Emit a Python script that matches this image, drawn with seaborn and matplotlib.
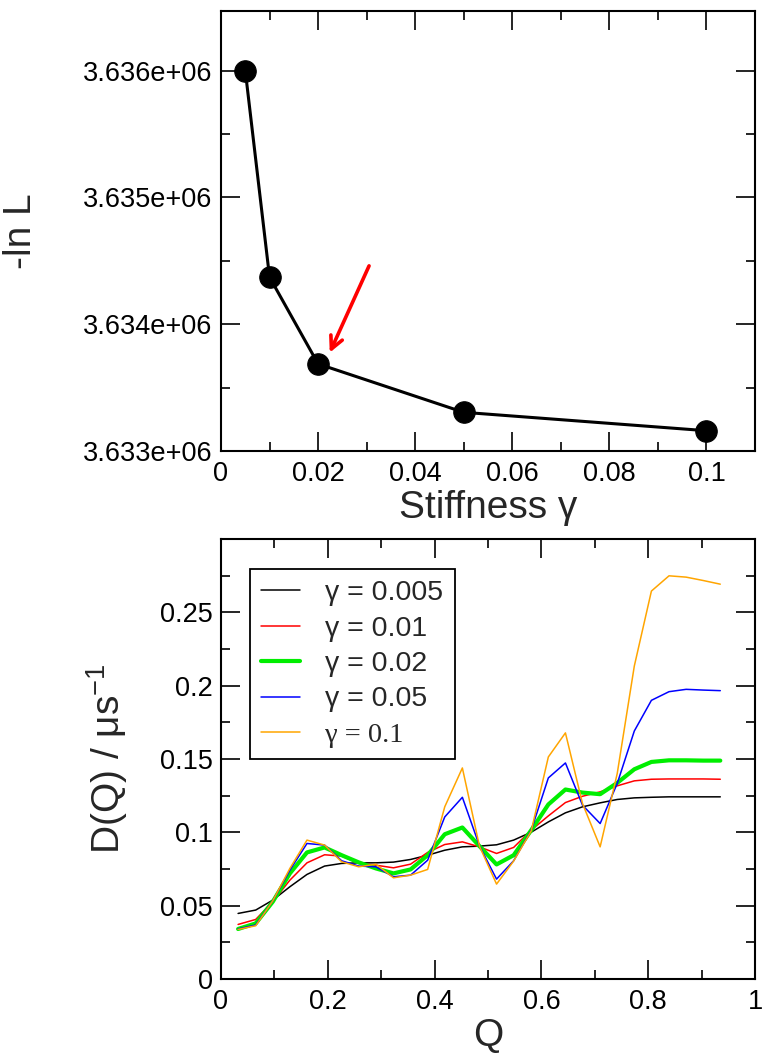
import numpy as np
import pandas as pd
import matplotlib
matplotlib.use("Agg")
import matplotlib.pyplot as plt
from matplotlib.ticker import MultipleLocator, FuncFormatter
import seaborn as sns

# ---- likelihood versus stiffness ----
stiffness = [0.005, 0.01, 0.02, 0.05, 0.1]
neg_log_L = [3636000, 3634371, 3633687, 3633305, 3633160]

# ---- position-dependent diffusion coefficient D(Q) ----
Q = [0.032, 0.065, 0.097, 0.129, 0.161, 0.194, 0.226, 0.258, 0.290, 0.323,
     0.355, 0.387, 0.419, 0.452, 0.484, 0.516, 0.548, 0.581, 0.613, 0.645,
     0.677, 0.710, 0.742, 0.774, 0.806, 0.839, 0.871, 0.903, 0.935]

D_0005 = [0.0447, 0.0470, 0.0538, 0.0629, 0.0713, 0.0770, 0.0788, 0.0792, 0.0792, 0.0797,
          0.0815, 0.0844, 0.0878, 0.0901, 0.0906, 0.0915, 0.0947, 0.1001, 0.1071, 0.1133,
          0.1174, 0.1201, 0.1224, 0.1235, 0.1239, 0.1242, 0.1242, 0.1242, 0.1242]
D_001 = [0.0372, 0.0406, 0.0527, 0.0674, 0.0792, 0.0847, 0.0838, 0.0788, 0.0776, 0.0758,
         0.0783, 0.0863, 0.0917, 0.0935, 0.0901, 0.0856, 0.0897, 0.1015, 0.1112, 0.1203,
         0.1246, 0.1276, 0.1317, 0.1351, 0.1362, 0.1364, 0.1364, 0.1364, 0.1362]
D_002 = [0.0341, 0.0379, 0.0527, 0.0720, 0.0863, 0.0897, 0.0844, 0.0795, 0.0754, 0.0720,
         0.0747, 0.0844, 0.0987, 0.1033, 0.0906, 0.0781, 0.0844, 0.1015, 0.1190, 0.1292,
         0.1271, 0.1260, 0.1337, 0.1430, 0.1480, 0.1491, 0.1491, 0.1489, 0.1489]
D_005 = [0.0341, 0.0368, 0.0533, 0.0742, 0.0924, 0.0913, 0.0806, 0.0770, 0.0765, 0.0697,
         0.0708, 0.0810, 0.1105, 0.1239, 0.0908, 0.0681, 0.0806, 0.1015, 0.1371, 0.1473,
         0.1185, 0.1060, 0.1333, 0.1691, 0.1900, 0.1959, 0.1975, 0.1970, 0.1966]
D_01 = [0.0338, 0.0363, 0.0533, 0.0754, 0.0947, 0.0913, 0.0799, 0.0765, 0.0783, 0.0690,
        0.0708, 0.0747, 0.1174, 0.1439, 0.0906, 0.0647, 0.0804, 0.1010, 0.1514, 0.1678,
        0.1196, 0.0901, 0.1401, 0.2134, 0.2645, 0.2749, 0.2740, 0.2717, 0.2692]

series_labels = ["γ = 0.005", "γ = 0.01", "γ = 0.02", "γ = 0.05", "γ = 0.1"]
series_values = [D_0005, D_001, D_002, D_005, D_01]
series_colors = ["black", "red", "#00ee00", "blue", "orange"]
series_widths = [1.1, 1.1, 3.0, 1.1, 1.1]

sns.set_style("ticks")
plt.rcParams["font.family"] = ["Liberation Sans", "DejaVu Sans"]
plt.rcParams["mathtext.default"] = "regular"

fig = plt.figure(figsize=(7.62, 10.53), dpi=100)
ax1 = fig.add_axes([221 / 762, 1 - 451 / 1053, 534 / 762, 440 / 1053])
ax2 = fig.add_axes([221 / 762, 1 - 979 / 1053, 534 / 762, 440 / 1053])

TICK_FS = 19.5
LABEL_FS = 28


def style_axes(ax):
    for s in ax.spines.values():
        s.set_linewidth(1.5)
        s.set_color("black")
    ax.tick_params(which="both", direction="in", top=True, right=True,
                   width=1.2, colors="black", labelsize=TICK_FS)
    ax.tick_params(which="major", length=13.5)
    ax.tick_params(which="minor", length=6.5)
    ax.tick_params(axis="x", which="both", pad=7)
    ax.tick_params(axis="y", which="both", pad=6)


# top panel
sns.lineplot(x=stiffness, y=neg_log_L, ax=ax1, color="black", lw=2.2,
             marker="o", markersize=15.5, markeredgecolor="black", legend=False)
ax1.set_xlim(0, 0.11)
ax1.set_ylim(3633000, 3636470)
ax1.xaxis.set_major_locator(MultipleLocator(0.02))
ax1.xaxis.set_minor_locator(MultipleLocator(0.01))
ax1.yaxis.set_major_locator(MultipleLocator(1000))
ax1.yaxis.set_minor_locator(MultipleLocator(500))
ax1.xaxis.set_major_formatter(FuncFormatter(lambda v, p: f"{v:g}"))
ax1.yaxis.set_major_formatter(FuncFormatter(lambda v, p: f"{v:.3e}"))
style_axes(ax1)
ax1.set_xlabel("Stiffness γ", fontsize=LABEL_FS)
ax1.set_ylabel("-ln L", fontsize=LABEL_FS)
ax1.xaxis.set_label_coords(0.5, -0.088)
ax1.yaxis.set_label_coords(-0.34, 0.5)
ax1.annotate("", xy=(0.0224, 3633776), xytext=(0.0305, 3634460),
             arrowprops=dict(arrowstyle="->,head_length=0.9,head_width=0.45",
                             color="red", lw=2.6, shrinkA=0, shrinkB=0))

# bottom panel
for lab, vals, col, lw in zip(series_labels, series_values, series_colors, series_widths):
    sns.lineplot(x=Q, y=vals, ax=ax2, color=col, lw=lw, label=lab)
ax2.set_xlim(0, 1)
ax2.set_ylim(0, 0.3)
ax2.xaxis.set_major_locator(MultipleLocator(0.2))
ax2.xaxis.set_minor_locator(MultipleLocator(0.1))
ax2.yaxis.set_major_locator(MultipleLocator(0.05))
ax2.yaxis.set_minor_locator(MultipleLocator(0.025))
fmt = FuncFormatter(lambda v, p: "" if v > 0.29 else f"{v:g}")
ax2.xaxis.set_major_formatter(FuncFormatter(lambda v, p: f"{v:g}"))
ax2.yaxis.set_major_formatter(fmt)
style_axes(ax2)
ax2.set_xlabel("Q", fontsize=LABEL_FS)
ax2.set_ylabel("D(Q) / μs$^{-1}$", fontsize=LABEL_FS)
ax2.xaxis.set_label_coords(0.5, -0.088)
ax2.yaxis.set_label_coords(-0.17, 0.5)

leg = ax2.legend(loc="upper left", bbox_to_anchor=(0.054, 0.932), borderaxespad=0,
                 fontsize=20.5, frameon=True, fancybox=False, framealpha=1,
                 edgecolor="black", handlelength=1.35, handletextpad=0.9,
                 labelspacing=0.33, borderpad=0.4)
leg.get_frame().set_linewidth(1.3)
leg.get_texts()[-1].set_fontfamily(["Liberation Serif", "DejaVu Serif"])

fig.savefig("out.png", dpi=100)
